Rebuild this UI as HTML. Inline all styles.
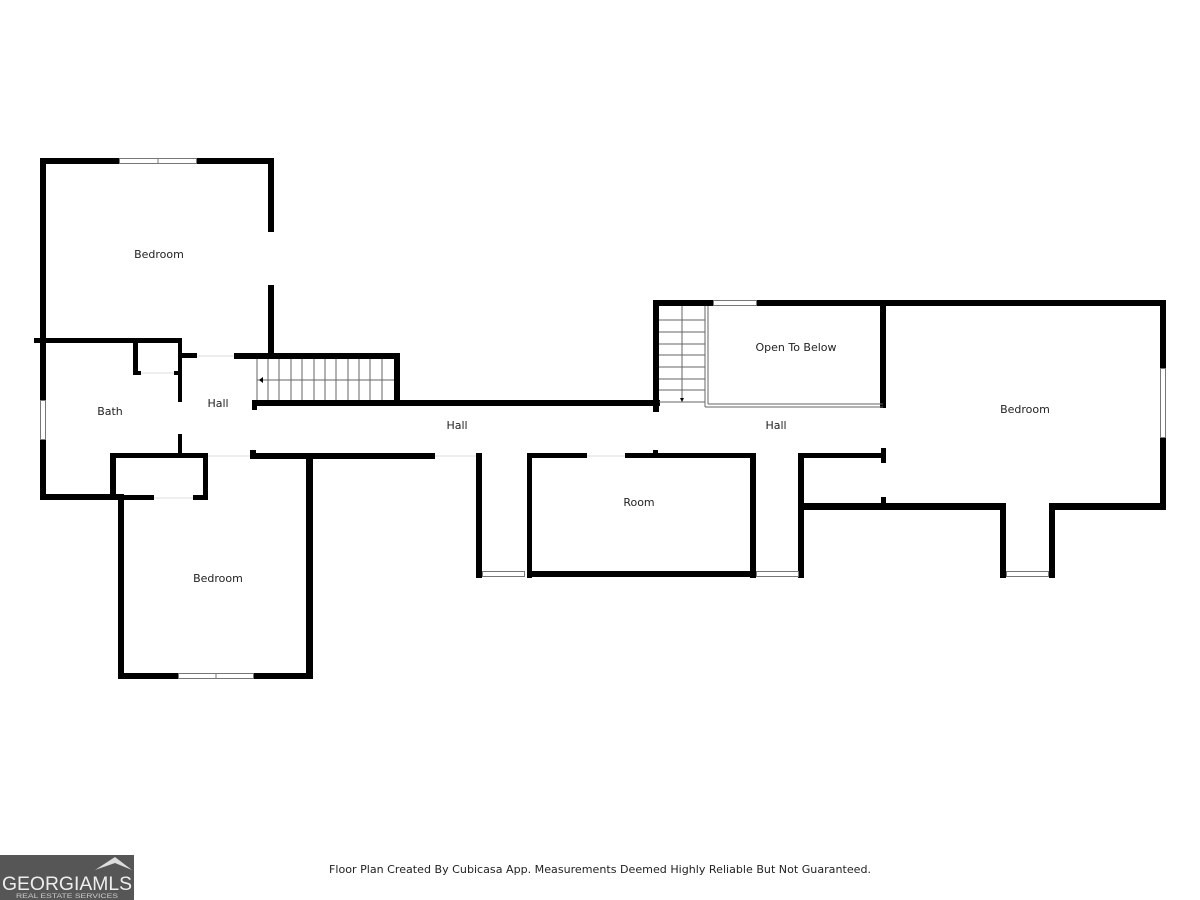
<!DOCTYPE html>
<html><head><meta charset="utf-8"><style>
html,body{margin:0;padding:0;background:#fff;width:1200px;height:900px;overflow:hidden}
svg text{font-family:"DejaVu Sans","Liberation Sans",sans-serif;fill:#222}
</style></head><body>
<svg width="1200" height="900" viewBox="0 0 1200 900" xmlns="http://www.w3.org/2000/svg">
<g fill="#000">
<!-- top-left bedroom -->
<rect x="40" y="158" width="79" height="6"/>
<rect x="197" y="158" width="77" height="6"/>
<rect x="40" y="158" width="6" height="242"/>
<rect x="40" y="440" width="6" height="60"/>
<rect x="268" y="158" width="6" height="74"/>
<rect x="268" y="285" width="6" height="72"/>
<!-- bath -->
<rect x="34" y="338" width="148" height="5"/>
<rect x="133" y="338" width="5" height="37"/>
<rect x="133" y="371" width="8" height="4"/>
<rect x="174" y="371" width="8" height="4"/>
<rect x="178" y="338" width="4" height="64"/>
<rect x="178" y="434" width="4" height="22"/>
<rect x="40" y="494" width="84" height="6"/>
<!-- bath closet -->
<rect x="110" y="453" width="98" height="5"/>
<rect x="110" y="453" width="6" height="47"/>
<rect x="203" y="453" width="5" height="47"/>
<rect x="110" y="495" width="44" height="5"/>
<rect x="193" y="495" width="15" height="5"/>
<!-- hall top / stairs box -->
<rect x="181" y="353" width="16" height="5"/>
<rect x="234" y="353" width="166" height="6"/>
<rect x="394" y="353" width="6" height="53"/>
<rect x="252" y="400" width="408" height="6"/>
<rect x="252" y="400" width="5" height="10"/>
<!-- hall bottom -->
<rect x="250" y="453" width="185" height="6"/>
<rect x="250" y="450" width="6" height="9"/>
<rect x="476" y="453" width="6" height="125"/>
<!-- bottom bedroom -->
<rect x="118" y="497" width="6" height="182"/>
<rect x="118" y="673" width="60" height="6"/>
<rect x="254" y="673" width="59" height="6"/>
<rect x="306" y="453" width="7" height="226"/>
<!-- room -->
<rect x="527" y="453" width="60" height="5"/>
<rect x="625" y="453" width="131" height="5"/>
<rect x="527" y="453" width="5" height="125"/>
<rect x="750" y="453" width="6" height="125"/>
<rect x="527" y="571" width="229" height="6"/>
<rect x="476" y="571" width="6" height="7"/>
<!-- right side -->
<rect x="798" y="453" width="6" height="125"/>
<rect x="798" y="453" width="88" height="5"/>
<rect x="881" y="448" width="5" height="15"/>
<rect x="881" y="497" width="5" height="8"/>
<rect x="798" y="503" width="208" height="7"/>
<rect x="1000" y="503" width="6" height="75"/>
<rect x="1049" y="503" width="6" height="75"/>
<rect x="1049" y="503" width="117" height="7"/>
<rect x="1160" y="300" width="6" height="68"/>
<rect x="1160" y="438" width="6" height="72"/>
<rect x="653" y="300" width="60" height="6"/>
<rect x="757" y="300" width="409" height="6"/>
<rect x="653" y="300" width="6" height="112"/>
<rect x="880" y="300" width="6" height="108"/>
<rect x="653" y="450" width="5" height="8"/>
</g>
<!-- windows -->
<g fill="#fff" stroke="#777" stroke-width="1">
<rect x="119.5" y="158.5" width="77" height="5"/><line x1="158" y1="158" x2="158" y2="164"/>
<rect x="40.5" y="400.5" width="5" height="39"/>
<rect x="178.5" y="673.5" width="75" height="5"/><line x1="216" y1="673" x2="216" y2="679"/>
<rect x="482.5" y="571.5" width="42" height="5"/>
<rect x="756.5" y="571.5" width="42" height="5"/>
<rect x="1006.5" y="571.5" width="42" height="5"/>
<rect x="713.5" y="300.5" width="43" height="5"/>
<rect x="1160.5" y="368.5" width="5" height="69"/>
</g>
<g stroke="#ddd" stroke-width="1">
<line x1="197" y1="356" x2="234" y2="356"/>
<line x1="141" y1="373" x2="174" y2="373"/>
<line x1="154" y1="498" x2="193" y2="498"/>
<line x1="208" y1="456" x2="250" y2="456"/>
<line x1="435" y1="456" x2="476" y2="456"/>
<line x1="587" y1="456" x2="625" y2="456"/>
</g>
<!-- stairs left -->
<g stroke="#666" stroke-width="1">
<line x1="257" y1="380" x2="394" y2="380"/>
<line x1="268" y1="359" x2="268" y2="400"/><line x1="279" y1="359" x2="279" y2="400"/>
<line x1="291" y1="359" x2="291" y2="400"/><line x1="302" y1="359" x2="302" y2="400"/>
<line x1="314" y1="359" x2="314" y2="400"/><line x1="325" y1="359" x2="325" y2="400"/>
<line x1="336" y1="359" x2="336" y2="400"/><line x1="348" y1="359" x2="348" y2="400"/>
<line x1="359" y1="359" x2="359" y2="400"/><line x1="370" y1="359" x2="370" y2="400"/>
<line x1="382" y1="359" x2="382" y2="400"/><line x1="257" y1="359" x2="257" y2="400"/>
</g>
<polygon points="259,380 263,377 263,383" fill="#000"/>
<!-- stairs right -->
<g stroke="#666" stroke-width="1">
<line x1="682" y1="306" x2="682" y2="400"/>
<line x1="659" y1="320" x2="705" y2="320"/><line x1="659" y1="332" x2="705" y2="332"/>
<line x1="659" y1="344" x2="705" y2="344"/><line x1="659" y1="355" x2="705" y2="355"/>
<line x1="659" y1="367" x2="705" y2="367"/><line x1="659" y1="379" x2="705" y2="379"/>
<line x1="659" y1="390" x2="705" y2="390"/><line x1="659" y1="402" x2="705" y2="402"/>
<line x1="705" y1="306" x2="705" y2="407"/><line x1="708" y1="306" x2="708" y2="404"/>
<line x1="705" y1="407" x2="883" y2="407"/><line x1="708" y1="404" x2="883" y2="404"/>
</g>
<polygon points="680,398 684,398 682,402" fill="#000"/>
<g font-size="11" text-anchor="middle">
<text x="159" y="258">Bedroom</text>
<text x="110" y="415">Bath</text>
<text x="218" y="407">Hall</text>
<text x="457" y="429">Hall</text>
<text x="776" y="429">Hall</text>
<text x="796" y="351">Open To Below</text>
<text x="1025" y="413">Bedroom</text>
<text x="639" y="506">Room</text>
<text x="218" y="582">Bedroom</text>
<text x="600" y="873" textLength="542" lengthAdjust="spacingAndGlyphs">Floor Plan Created By Cubicasa App. Measurements Deemed Highly Reliable But Not Guaranteed.</text>
</g>
<rect x="0" y="855" width="134" height="45" fill="#565656"/>
<polygon points="95,870 115,857 132,870 115,863" fill="#ddd"/>
<text x="2" y="890" font-size="19" fill="#eee" style="fill:#eee;font-family:'Liberation Sans',sans-serif" textLength="130" lengthAdjust="spacingAndGlyphs">GEORGIAMLS</text>
<text x="16" y="898" font-size="6" style="fill:#ccc;font-family:'Liberation Sans',sans-serif" textLength="102" lengthAdjust="spacingAndGlyphs">REAL ESTATE SERVICES</text>
</svg>
</body></html>
